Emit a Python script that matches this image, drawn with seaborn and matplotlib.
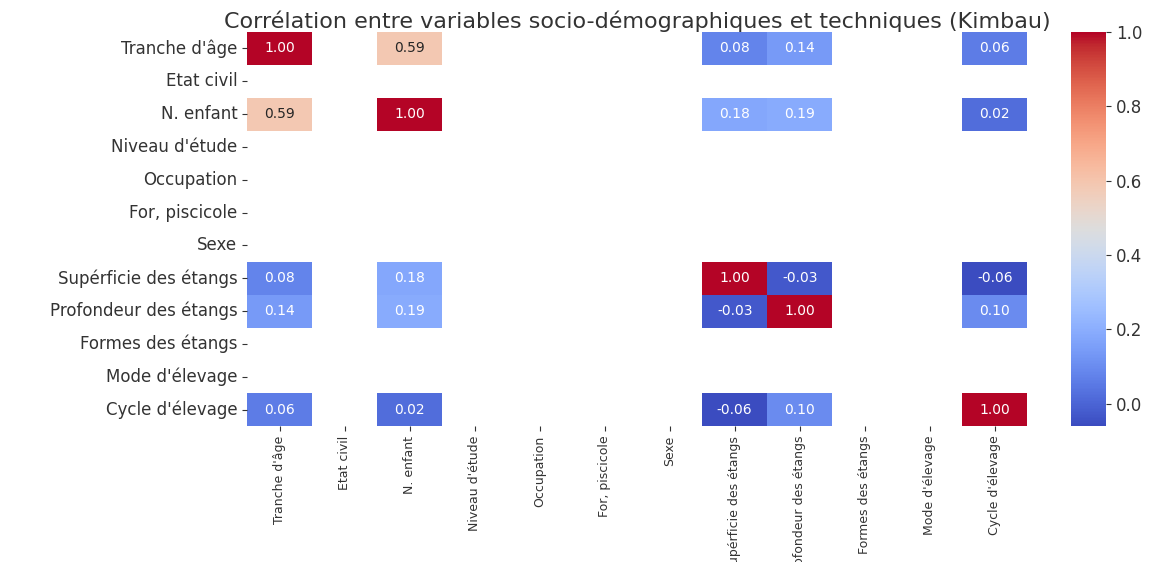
import seaborn as sns
import matplotlib.pyplot as plt
import pandas as pd
import numpy as np

# variables of the Kimbau survey
labels = [
    "Tranche d'âge",
    "Etat civil",
    "N. enfant",
    "Niveau d'étude",
    "Occupation",
    "For, piscicole",
    "Sexe",
    "Supérficie des étangs",
    "Profondeur des étangs",
    "Formes des étangs",
    "Mode d'élevage",
    "Cycle d'élevage",
]

# pairwise correlations (constant variables give NaN)
pair_a = ["Tranche d'âge", "Tranche d'âge", "Tranche d'âge", "Tranche d'âge",
          "N. enfant", "N. enfant", "N. enfant",
          "Supérficie des étangs", "Supérficie des étangs",
          "Profondeur des étangs"]
pair_b = ["N. enfant", "Supérficie des étangs", "Profondeur des étangs", "Cycle d'élevage",
          "Supérficie des étangs", "Profondeur des étangs", "Cycle d'élevage",
          "Profondeur des étangs", "Cycle d'élevage",
          "Cycle d'élevage"]
pair_r = [0.59, 0.08, 0.14, 0.06,
          0.18, 0.19, 0.02,
          -0.03, -0.06,
          0.10]
non_constant = ["Tranche d'âge", "N. enfant", "Supérficie des étangs",
                "Profondeur des étangs", "Cycle d'élevage"]

corr = pd.DataFrame(np.nan, index=labels, columns=labels)
for v in non_constant:
    corr.loc[v, v] = 1.0
for a, b, r in zip(pair_a, pair_b, pair_r):
    corr.loc[a, b] = r
    corr.loc[b, a] = r

fig = plt.figure(figsize=(11.49, 5.62), dpi=100)
ax = fig.add_axes([0.215, 0.242, 0.679, 0.701])
cax = fig.add_axes([0.932, 0.242, 0.031, 0.701])

sns.heatmap(corr, annot=True, fmt=".2f", cmap="coolwarm", ax=ax, cbar_ax=cax,
            annot_kws={"fontsize": 10})

# white text on the saturated cells, dark only on the pale 0.59 ones
for t in ax.texts:
    val = float(t.get_text())
    t.set_color("#262626" if 0.4 < val < 0.7 else "white")

ax.set_title("Corrélation entre variables socio-démographiques et techniques (Kimbau)",
             fontsize=16, color="#333333", pad=3)
ax.set_xticklabels(ax.get_xticklabels(), rotation=90, fontsize=9)
ax.set_yticklabels(ax.get_yticklabels(), rotation=0, fontsize=12)
ax.tick_params(colors="#333333")
cax.tick_params(labelsize=12, colors="#333333")

fig.savefig("out.png", dpi=100)
